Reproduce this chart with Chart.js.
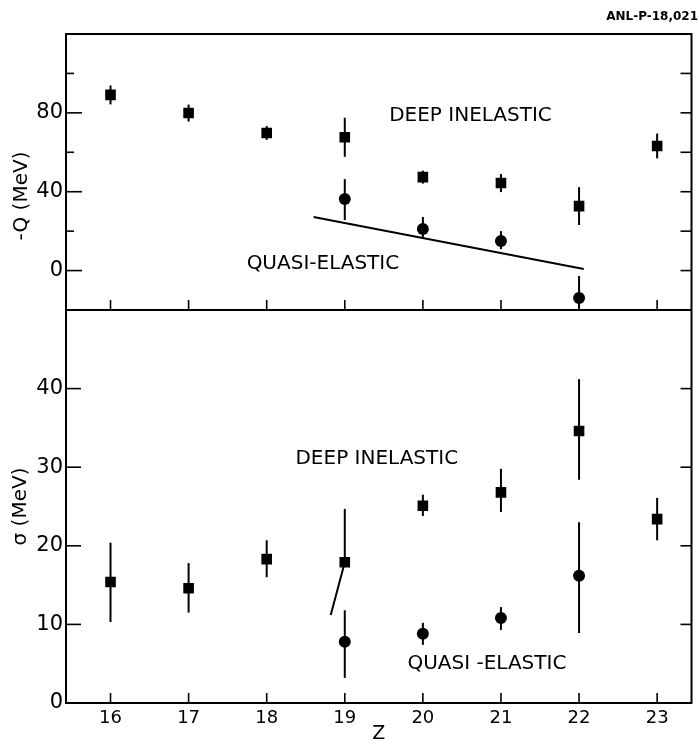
<!DOCTYPE html>
<html><head><meta charset="utf-8">
<script src="https://cdn.jsdelivr.net/npm/chart.js@4.4.1/dist/chart.umd.min.js"></script>
<style>html,body{margin:0;padding:0;background:#fff;}#wrap{width:699px;height:745px;}</style>
</head><body><div id="wrap"><canvas id="c" width="699" height="745"></canvas></div>
<script>
// ---------- data ----------
// Top panel: -Q (MeV)
const qDeepZ = [16, 17, 18, 19, 20, 21, 22, 23];
const qDeep = [89.1, 79.9, 69.8, 67.6, 47.4, 44.4, 32.7, 63.2];
const qDeepErr = [4.8, 4.3, 3.5, 9.9, 3.3, 4.6, 9.6, 6.3];
const qQuasiZ = [19, 20, 21, 22];
const qQuasi = [36.3, 21.1, 15.0, -13.9];
const qQuasiErrUp = [10.1, 6.1, 5.0, 11.1];
const qQuasiErrDn = [10.7, 5.1, 4.1, 11.0];
const qBoundaryZ = [18.60, 22.06];
const qBoundary = [27.2, 0.8];
// Bottom panel: sigma (MeV)
const sDeepZ = [16, 17, 18, 19, 20, 21, 22, 23];
const sDeep = [15.4, 14.6, 18.3, 17.9, 25.1, 26.8, 34.6, 23.4];
const sDeepErrUp = [5.0, 3.2, 2.4, 6.8, 1.4, 3.0, 6.6, 2.7];
const sDeepErrDn = [5.1, 3.1, 2.3, 0.0, 1.3, 2.5, 6.2, 2.7];
const sQuasiZ = [19, 20, 21, 22];
const sQuasi = [7.8, 8.8, 10.8, 16.2];
const sQuasiErrUp = [4.0, 1.4, 1.4, 6.8];
const sQuasiErrDn = [4.6, 1.4, 1.5, 7.3];
const sSlantZ = [18.82, 19];
const sSlant = [11.2, 17.9];
// tick labels
const qTickLabels = [0, 40, 80];
const sTickLabels = [0, 10, 20, 30, 40];
const zTickLabels = [16, 17, 18, 19, 20, 21, 22, 23];
// text labels
const annotations = [
  {text: 'DEEP INELASTIC', x: 20.61, y: 78.6, axis: 'yTop'},
  {text: 'QUASI-ELASTIC', x: 18.72, y: 3.6, axis: 'yTop'},
  {text: 'DEEP INELASTIC', x: 19.41, y: 31.1, axis: 'yBot'},
  {text: 'QUASI -ELASTIC', x: 20.82, y: 5.0, axis: 'yBot'}
];

const pts = (zs, vs) => zs.map((z, i) => ({x: z, y: vs[i]}));
const FONT = 'DejaVu Sans';

const framePlugin = {
  id: 'frame',
  beforeDatasetsDraw(chart) {
    const ctx = chart.ctx, xs = chart.scales.x;
    ctx.save();
    ctx.strokeStyle = '#000';
    ctx.lineWidth = 2;
    chart.data.datasets.forEach((ds, i) => {
      if (!ds.errUp) return;
      const ys = chart.scales[ds.yAxisID];
      ds.data.forEach((p, j) => {
        const px = xs.getPixelForValue(p.x);
        let y1 = ys.getPixelForValue(p.y + ds.errUp[j]);
        let y2 = ys.getPixelForValue(p.y - ds.errDn[j]);
        y1 = Math.max(ys.top, Math.min(ys.bottom, y1));
        y2 = Math.max(ys.top, Math.min(ys.bottom, y2));
        ctx.beginPath(); ctx.moveTo(px, y1); ctx.lineTo(px, y2); ctx.stroke();
      });
    });
    ctx.restore();
  },
  afterDatasetsDraw(chart) {
    const ctx = chart.ctx, a = chart.chartArea, xs = chart.scales.x;
    const yt = chart.scales.yTop, yb = chart.scales.yBot;
    ctx.save();
    ctx.strokeStyle = '#000';
    ctx.lineWidth = 2;
    ctx.strokeRect(a.left, a.top, a.right - a.left, a.bottom - a.top);
    ctx.beginPath(); ctx.moveTo(a.left, yb.top); ctx.lineTo(a.right, yb.top); ctx.stroke();
    ctx.lineWidth = 1.6;
    const seg = (x1, y1, x2, y2) => { ctx.beginPath(); ctx.moveTo(x1, y1); ctx.lineTo(x2, y2); ctx.stroke(); };
    // x ticks (inward) on both panels
    xs.ticks.forEach(t => {
      if (!Number.isInteger(t.value)) return;
      const px = xs.getPixelForValue(t.value);
      seg(px, yb.bottom, px, yb.bottom - 10);
      seg(px, yt.bottom, px, yt.bottom - 10);
    });
    // y ticks top panel
    yt.ticks.forEach(t => {
      const v = t.value;
      if (v <= yt.min || v >= yt.max) return;
      const py = yt.getPixelForValue(v);
      const major = qTickLabels.includes(v);
      seg(a.left, py, a.left + (major ? 16 : 8), py);
      seg(a.right, py, a.right - 11, py);
    });
    yb.ticks.forEach(t => {
      const v = t.value;
      if (v <= yb.min || v >= yb.max) return;
      const py = yb.getPixelForValue(v);
      seg(a.left, py, a.left + 15, py);
      seg(a.right, py, a.right - 11, py);
    });
    // annotations
    ctx.fillStyle = '#000';
    ctx.font = '20px "' + FONT + '"';
    ctx.textAlign = 'center';
    ctx.textBaseline = 'middle';
    annotations.forEach(an => {
      const ys = chart.scales[an.axis];
      ctx.fillText(an.text, xs.getPixelForValue(an.x), ys.getPixelForValue(an.y));
    });
    // axis titles (rotated)
    ctx.font = '20px "' + FONT + '"';
    ctx.save();
    ctx.translate(22, (yt.top + yt.bottom) / 2 + 24);
    ctx.rotate(-Math.PI / 2);
    ctx.fillText('-Q (MeV)', 0, 0);
    ctx.restore();
    ctx.save();
    ctx.translate(21, (yb.top + yb.bottom) / 2);
    ctx.rotate(-Math.PI / 2);
    ctx.fillText('σ (MeV)', 0, 0);
    ctx.restore();
    // report id
    ctx.font = 'bold 12px "' + FONT + '"';
    ctx.textAlign = 'right';
    ctx.fillText('ANL-P-18,021', 698, 17);
    ctx.restore();
  }
};

const yTickFont = {family: FONT, size: 21};
new Chart(document.getElementById('c'), {
  type: 'scatter',
  data: {
    datasets: [
      {label: 'Deep inelastic (-Q)', data: pts(qDeepZ, qDeep), yAxisID: 'yTop', pointStyle: 'rect', pointRadius: 7.5,
       backgroundColor: '#000', borderColor: '#000', borderWidth: 0, errUp: qDeepErr, errDn: qDeepErr},
      {label: 'Quasi-elastic (-Q)', data: pts(qQuasiZ, qQuasi), yAxisID: 'yTop', pointStyle: 'circle', pointRadius: 6,
       backgroundColor: '#000', borderColor: '#000', borderWidth: 0, errUp: qQuasiErrUp, errDn: qQuasiErrDn},
      {type: 'line', label: 'Boundary', data: pts(qBoundaryZ, qBoundary), yAxisID: 'yTop', borderColor: '#000',
       borderWidth: 2, pointRadius: 0, fill: false},
      {label: 'Deep inelastic (sigma)', data: pts(sDeepZ, sDeep), yAxisID: 'yBot', pointStyle: 'rect', pointRadius: 7.5,
       backgroundColor: '#000', borderColor: '#000', borderWidth: 0, errUp: sDeepErrUp, errDn: sDeepErrDn},
      {label: 'Quasi-elastic (sigma)', data: pts(sQuasiZ, sQuasi), yAxisID: 'yBot', pointStyle: 'circle', pointRadius: 6,
       backgroundColor: '#000', borderColor: '#000', borderWidth: 0, errUp: sQuasiErrUp, errDn: sQuasiErrDn},
      {type: 'line', label: 'Slant', data: pts(sSlantZ, sSlant), yAxisID: 'yBot', borderColor: '#000',
       borderWidth: 2, pointRadius: 0, fill: false}
    ]
  },
  options: {
    responsive: false, animation: false, devicePixelRatio: 1,
    layout: {padding: {top: 34, right: 1, left: 0, bottom: 0}},
    plugins: {legend: {display: false}, tooltip: {enabled: false}},
    scales: {
      x: {type: 'linear', min: 15.43, max: 23.44,
          grid: {display: false, drawTicks: false}, border: {display: false},
          ticks: {stepSize: 1, includeBounds: false, autoSkip: false, padding: 5, maxRotation: 0,
                  font: {family: FONT, size: 18}, color: '#000',
                  callback: v => zTickLabels.includes(v) ? String(v) : ''},
          title: {display: true, text: 'Z', color: '#000', font: {family: FONT, size: 19, lineHeight: 1}, padding: {top: 0, bottom: 1}},
          afterFit(s) { s.height = 42; s.paddingLeft = 0; s.paddingRight = 0; }},
      yBot: {type: 'linear', position: 'left', stack: 'panels', stackWeight: 393, min: 0, max: 50,
             grid: {display: false, drawTicks: false}, border: {display: false},
             ticks: {stepSize: 10, autoSkip: false, padding: 3, font: yTickFont, color: '#000',
                     callback: v => sTickLabels.includes(v) ? String(v) : ''},
             afterFit(s) { s.width = 66; s.paddingTop = 0; s.paddingBottom = 0; }},
      yTop: {type: 'linear', position: 'left', stack: 'panels', stackWeight: 276, min: -20, max: 120,
             grid: {display: false, drawTicks: false}, border: {display: false},
             ticks: {stepSize: 20, autoSkip: false, padding: 3, font: yTickFont, color: '#000',
                     callback: v => qTickLabels.includes(v) ? String(v) : ''},
             afterFit(s) { s.width = 66; s.paddingTop = 0; s.paddingBottom = 0; }}
    }
  },
  plugins: [framePlugin]
});
</script></body></html>
